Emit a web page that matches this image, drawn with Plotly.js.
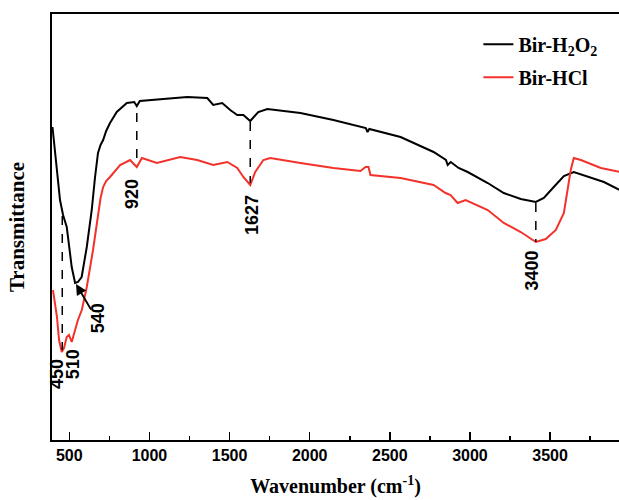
<!DOCTYPE html>
<html>
<head>
<meta charset="utf-8">
<script src="https://cdn.plot.ly/plotly-3.0.1.min.js"></script>
<style>html,body{margin:0;padding:0;background:#fff;}</style>
</head>
<body>
<div id="chart" style="width:619px;height:500px;"></div>
<script>
// Bir-H2O2 spectrum (wavenumber, relative transmittance)
const h2o2Wave = [395, 411, 442, 461, 484, 515, 536, 554, 577, 609, 640, 660, 679, 695, 711, 730, 754, 796, 859, 905, 921, 940, 1004, 1148, 1236, 1361, 1398, 1454, 1504, 1548, 1586, 1629, 1679, 1736, 1942, 2148, 2350, 2361, 2372, 2567, 2773, 2850, 2861, 2880, 2929, 2986, 3111, 3211, 3317, 3411, 3461, 3523, 3586, 3648, 3736, 3836, 3936];
const h2o2Trans = [313, 290, 240, 225, 213, 173, 157, 158, 163, 193, 230, 262, 287, 295, 300, 309, 317, 328, 337, 338, 334, 339, 340, 342, 343, 342, 335, 337, 330, 325, 325, 319, 328, 331, 327, 320, 312, 308, 311, 303, 288, 280, 275, 278, 272, 268, 257, 247, 241, 238, 242, 253, 264, 268, 263, 258, 250];
// Bir-HCl spectrum
const hclWave = [398, 423, 436, 453, 467, 484, 498, 515, 536, 554, 578, 609, 648, 679, 695, 711, 730, 754, 817, 879, 921, 953, 1046, 1192, 1298, 1398, 1486, 1548, 1586, 1629, 1660, 1711, 1754, 1942, 2148, 2317, 2348, 2367, 2379, 2567, 2773, 2848, 2879, 2923, 2973, 3111, 3211, 3317, 3411, 3473, 3536, 3586, 3611, 3629, 3648, 3692, 3817, 3936];
const hclTrans = [150, 123, 100, 88, 92, 103, 105, 98, 110, 120, 130, 153, 190, 227, 242, 253, 259, 263, 275, 280, 273, 282, 277, 283, 280, 275, 278, 272, 263, 255, 268, 280, 282, 277, 272, 269, 273, 273, 265, 262, 255, 247, 245, 237, 240, 230, 217, 208, 198, 201, 210, 227, 250, 270, 282, 280, 272, 268];
// Peak labels
const peakLabels = ["450", "510", "540", "920", "1627", "3400"];
const peakLabelX = [423, 525, 680, 891, 1640, 3390];
const peakLabelY = [66, 76, 122, 246, 225, 170];
// Dashed guide lines: wavenumber, top value, bottom value
const guideX = [456, 921, 1629, 3411];
const guideTop = [224, 327, 318, 237];
const guideBottom = [90, 275, 257, 198];
// Arrow for 540 (head on black curve, tail near label)
const arrowHead = [542, 156];
const arrowTail = [641, 129];

const serif = "Times New Roman, Liberation Serif, serif";
const sans = "Arial, Liberation Sans, sans-serif";

const traces = [
  {x: h2o2Wave, y: h2o2Trans, mode: "lines", name: "<b>Bir-H<sub>2</sub>O<sub>2</sub></b>",
   legendgroup: "a", line: {color: "#000000", width: 2}},
  {x: hclWave, y: hclTrans, mode: "lines", name: "<b>Bir-HCl</b>",
   legendgroup: "b", line: {color: "#f2322b", width: 2}}
];

const shapes = guideX.map((gx, i) => ({
  type: "line", xref: "x", yref: "y", x0: gx, x1: gx, y0: guideTop[i], y1: guideBottom[i],
  line: {color: "#000", width: 1.5, dash: "dash"}
}));

const annotations = peakLabels.map((t, i) => ({
  x: peakLabelX[i], y: peakLabelY[i], xref: "x", yref: "y", text: "<b>" + t + "</b>", showarrow: false,
  textangle: -90, font: {family: sans, size: 18, color: "#000"}
}));
annotations.push({
  x: arrowHead[0], y: arrowHead[1], ax: arrowTail[0], ay: arrowTail[1], axref: "x", ayref: "y",
  xref: "x", yref: "y", text: "", showarrow: true, arrowhead: 2, arrowsize: 1.2, arrowwidth: 1.8, arrowcolor: "#000"
});

const layout = {
  width: 619, height: 500,
  margin: {l: 52, r: 0, t: 14, b: 60, pad: 0},
  paper_bgcolor: "#fff", plot_bgcolor: "#fff",
  showlegend: true,
  legend: {x: 0.752, y: 0.975, xanchor: "left", yanchor: "top", bgcolor: "rgba(0,0,0,0)",
           font: {family: serif, size: 20, color: "#000"}, tracegroupgap: 4},
  xaxis: {
    range: [392, 3930], showgrid: false, zeroline: false,
    showline: true, linecolor: "#000", linewidth: 2, mirror: true,
    ticks: "inside", ticklen: 8, tickwidth: 1.5, tickcolor: "#000",
    tickvals: [500, 1000, 1500, 2000, 2500, 3000, 3500],
    ticktext: ["500", "1000", "1500", "2000", "2500", "3000", "3500"],
    minor: {dtick: 250, tick0: 250, ticks: "inside", ticklen: 4, tickwidth: 1.5, tickcolor: "#000", showgrid: false},
    tickfont: {family: sans, size: 16, color: "#000", weight: "bold"},
    title: {text: "<b>Wavenumber (cm<sup>-1</sup>)</b>", font: {family: serif, size: 20, color: "#000"}, standoff: 16}
  },
  yaxis: {
    range: [0, 426], showgrid: false, zeroline: false,
    showline: true, linecolor: "#000", linewidth: 2, mirror: false,
    ticks: "", showticklabels: false,
    title: {text: "<b>Transmittance</b>", font: {family: serif, size: 21, color: "#000"}, standoff: 20}
  },
  shapes: shapes,
  annotations: annotations
};

Plotly.newPlot("chart", traces, layout, {displayModeBar: false, staticPlot: true});
</script>
</body>
</html>
